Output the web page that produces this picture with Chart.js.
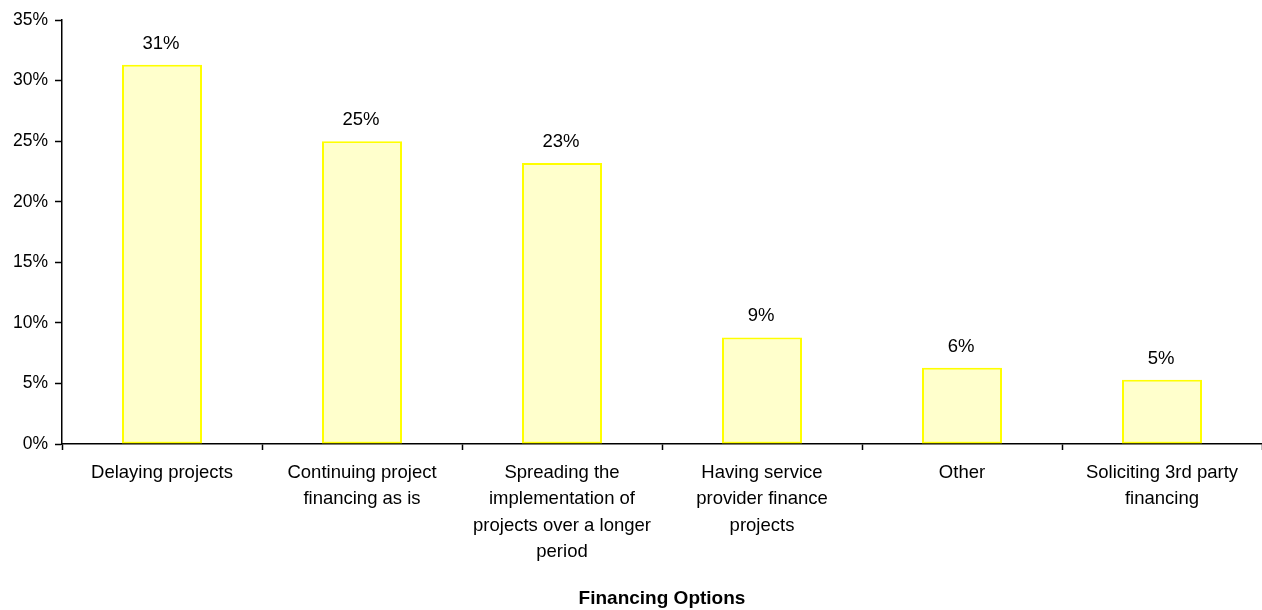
<!DOCTYPE html>
<html>
<head>
<meta charset="utf-8">
<script src="https://cdn.jsdelivr.net/npm/chart.js@4/dist/chart.umd.min.js"></script>
<style>
  html, body { margin: 0; padding: 0; background: #fff; }
  #wrap { width: 1262px; height: 610px; position: relative; }
</style>
</head>
<body>
<div id="wrap"><canvas id="grafica"></canvas></div>
<script>
// datos del gráfico
const categorias = [
    ["Delaying projects"],
    ["Continuing project", "financing as is"],
    ["Spreading the", "implementation of", "projects over a longer", "period"],
    ["Having service", "provider finance", "projects"],
    ["Other"],
    ["Soliciting 3rd party", "financing"]
];
const valores = [31.3, 25.0, 23.2, 8.8, 6.3, 5.3];
const etiquetasValor = ["31%", "25%", "23%", "9%", "6%", "5%"];
const ticksY = [0, 5, 10, 15, 20, 25, 30, 35];
const tituloX = "Financing Options";

const FUENTE = "'Liberation Sans', Arial, sans-serif";

// plugin simple para poner el % encima de cada barra
const etiquetasBarras = {
    id: "etiquetasBarras",
    afterDatasetsDraw(chart) {
        const ctx = chart.ctx;
        const meta = chart.getDatasetMeta(0);
        ctx.save();
        ctx.font = "18.5px " + FUENTE;
        ctx.fillStyle = "#000";
        ctx.textAlign = "center";
        ctx.textBaseline = "middle";
        meta.data.forEach((bar, i) => {
            ctx.fillText(etiquetasValor[i], bar.x - 1, bar.y - 21);
        });
        ctx.restore();
    }
};

const ctx = document.getElementById("grafica").getContext("2d");
new Chart(ctx, {
    type: "bar",
    data: {
        labels: categorias,
        datasets: [{
            data: valores,
            backgroundColor: "#FFFFCC",
            borderColor: "#FFFF00",
            borderWidth: 2,
            borderSkipped: false,
            barPercentage: 0.4,
            categoryPercentage: 1.0
        }]
    },
    options: {
        responsive: true,
        maintainAspectRatio: false,
        animation: false,
        layout: { padding: { top: 20, right: 0, left: 0, bottom: 0 } },
        plugins: {
            legend: { display: false },
            tooltip: { enabled: false }
        },
        scales: {
            x: {
                grid: {
                    offset: true,
                    drawOnChartArea: false,
                    drawTicks: true,
                    tickLength: 6,
                    tickColor: "#000",
                    tickWidth: 1.5
                },
                border: { color: "#000", width: 1.5 },
                ticks: {
                    color: "#000",
                    font: { family: FUENTE, size: 18.5, lineHeight: 1.42 },
                    padding: 10,
                    maxRotation: 0,
                    autoSkip: false
                },
                title: {
                    display: true,
                    text: tituloX,
                    color: "#000",
                    font: { family: FUENTE, size: 19, weight: "bold" },
                    padding: { top: 0, bottom: 0 }
                },
                afterFit(scale) { scale.height = 166; }
            },
            y: {
                min: 0,
                max: 35,
                afterBuildTicks(scale) {
                    scale.ticks = ticksY.map(v => ({ value: v }));
                },
                grid: {
                    drawOnChartArea: false,
                    drawTicks: true,
                    tickLength: 7,
                    tickColor: "#000",
                    tickWidth: 1.5
                },
                border: { color: "#000", width: 1.5 },
                ticks: {
                    color: "#000",
                    font: { family: FUENTE, size: 17.5 },
                    padding: 7,
                    callback: v => v + "%"
                },
                afterFit(scale) { scale.width = 62; }
            }
        }
    },
    plugins: [etiquetasBarras]
});
</script>
</body>
</html>
